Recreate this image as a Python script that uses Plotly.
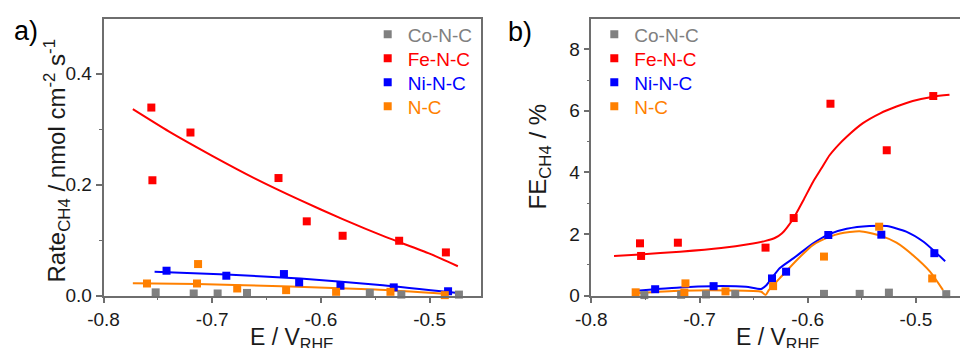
import plotly.graph_objects as go

# ---------------- data ----------------
series_names = ["Co-N-C", "Fe-N-C", "Ni-N-C", "N-C"]
series_colors = ["#808080", "#ff0000", "#0000ff", "#ff8000"]

# panel a) : Rate CH4 (nmol cm-2 s-1) vs E (V RHE)
rate_co_E = [-0.752, -0.717, -0.695, -0.668, -0.555, -0.526, -0.473]
rate_co = [0.006, 0.004, 0.004, 0.005, 0.005, 0.002, 0.002]
rate_fe_E = [-0.756, -0.755, -0.720, -0.639, -0.613, -0.580, -0.528, -0.485]
rate_fe = [0.339, 0.208, 0.294, 0.212, 0.134, 0.108, 0.099, 0.078]
rate_ni_E = [-0.742, -0.687, -0.634, -0.620, -0.582, -0.533, -0.483]
rate_ni = [0.045, 0.036, 0.039, 0.024, 0.018, 0.015, 0.008]
rate_nc_E = [-0.760, -0.713, -0.714, -0.677, -0.632, -0.586, -0.536, -0.486]
rate_nc = [0.022, 0.057, 0.022, 0.013, 0.010, 0.007, 0.007, 0.001]

# fitted curves, panel a)
rate_fe_fit_E = [-0.773, -0.740, -0.700, -0.660, -0.620, -0.580, -0.540, -0.500, -0.474]
rate_fe_fit = [0.336, 0.296, 0.252, 0.2105, 0.173, 0.138, 0.1055, 0.0758, 0.053]
rate_ni_fit_E = [-0.753, -0.687, -0.619, -0.543, -0.474]
rate_ni_fit = [0.043, 0.038, 0.031, 0.019, 0.005]
rate_nc_fit_E = [-0.773, -0.714, -0.628, -0.550, -0.484]
rate_nc_fit = [0.0225, 0.021, 0.0165, 0.011, 0.003]

# panel b) : FE CH4 (%) vs E (V RHE)
fe_co_E = [-0.751, -0.717, -0.694, -0.667, -0.585, -0.552, -0.525, -0.472]
fe_co = [0.02, 0.03, 0.04, 0.05, 0.06, 0.06, 0.10, 0.05]
fe_fe_E = [-0.755, -0.754, -0.720, -0.639, -0.613, -0.579, -0.527, -0.484]
fe_fe = [1.70, 1.29, 1.72, 1.56, 2.52, 6.23, 4.72, 6.48]
fe_ni_E = [-0.741, -0.687, -0.633, -0.620, -0.581, -0.532, -0.483]
fe_ni = [0.21, 0.31, 0.56, 0.78, 1.97, 1.98, 1.38]
fe_nc_E = [-0.759, -0.713, -0.714, -0.676, -0.632, -0.585, -0.534, -0.485]
fe_nc = [0.11, 0.40, 0.10, 0.14, 0.31, 1.27, 2.24, 0.56]

# fitted curves, panel b)
fe_fe_fit_E = [-0.779, -0.755, -0.718, -0.680, -0.655, -0.639, -0.630, -0.624, -0.619,
               -0.613, -0.604, -0.595, -0.587, -0.580, -0.572, -0.564, -0.549, -0.533,
               -0.518, -0.503, -0.484, -0.469]
fe_fe_fit = [1.29, 1.34, 1.43, 1.55, 1.67, 1.78, 1.88, 2.02, 2.22,
             2.52, 3.10, 3.70, 4.15, 4.55, 4.88, 5.16, 5.60, 5.92,
             6.14, 6.32, 6.46, 6.52]
fe_ni_fit_E = [-0.758, -0.741, -0.718, -0.688, -0.657, -0.643, -0.638, -0.626, -0.613,
               -0.595, -0.580, -0.564, -0.543, -0.527, -0.509, -0.493, -0.481, -0.473]
fe_ni_fit = [0.16, 0.21, 0.27, 0.31, 0.29, 0.22, 0.35, 0.89, 1.22,
             1.70, 2.00, 2.17, 2.26, 2.26, 2.08, 1.75, 1.38, 1.12]
fe_nc_fit_E = [-0.759, -0.718, -0.672, -0.643, -0.639, -0.636, -0.626, -0.610, -0.595,
               -0.580, -0.570, -0.552, -0.533, -0.518, -0.503, -0.487, -0.475]
fe_nc_fit = [0.08, 0.16, 0.17, 0.13, 0.02, 0.18, 0.56, 1.16, 1.65,
             1.91, 2.02, 2.09, 1.95, 1.72, 1.32, 0.78, 0.18]

x_tickvals = [-0.8, -0.7, -0.6, -0.5]
x_ticktext = ["-0.8", "-0.7", "-0.6", "-0.5"]
x_minor = [-0.75, -0.65, -0.55, -0.45]
ya_tickvals = [0.0, 0.2, 0.4]
ya_ticktext = ["0.0", "0.2", "0.4"]
ya_minor = [0.1, 0.3]
yb_tickvals = [0, 2, 4, 6, 8]
yb_ticktext = ["0", "2", "4", "6", "8"]
yb_minor = [1, 3, 5, 7]

x_title = "E / V<sub>RHE</sub>"
ya_title = "Rate<sub>CH4</sub> / nmol cm<sup>-2</sup> s<sup>-1</sup>"
yb_title = "FE<sub>CH4</sub> / %"

# ---------------- figure ----------------
FONT = "Liberation Sans, Arial, sans-serif"
AXC = "#6e6e6e"
TXT = "#1a1a1a"
W, H = 960, 348

fig = go.Figure()

legend_rows = [34.5, 58.5, 82.5, 106.5]   # pixel rows of the legend entries


def add_points(xs, ys, i, xa, ya, leg):
    fig.add_trace(go.Scatter(
        x=xs, y=ys, mode="markers", xaxis=xa, yaxis=ya, legend=leg,
        name="<span style='color:%s'>%s</span>" % (series_colors[i], series_names[i]),
        marker=dict(symbol="square", size=8, color=series_colors[i]),
        cliponaxis=False))


def add_fit(xs, ys, i, xa, ya):
    fig.add_trace(go.Scatter(
        x=xs, y=ys, mode="lines", xaxis=xa, yaxis=ya, showlegend=False,
        line=dict(color=series_colors[i], width=2, shape="spline", smoothing=0.6)))


# panel a)
add_fit(rate_fe_fit_E, rate_fe_fit, 1, "x", "y")
add_fit(rate_ni_fit_E, rate_ni_fit, 2, "x", "y")
add_fit(rate_nc_fit_E, rate_nc_fit, 3, "x", "y")
add_points(rate_co_E, rate_co, 0, "x", "y", "legend")
add_points(rate_fe_E, rate_fe, 1, "x", "y", "legend2")
add_points(rate_ni_E, rate_ni, 2, "x", "y", "legend3")
add_points(rate_nc_E, rate_nc, 3, "x", "y", "legend4")

# panel b)
add_fit(fe_fe_fit_E, fe_fe_fit, 1, "x2", "y2")
add_fit(fe_ni_fit_E, fe_ni_fit, 2, "x2", "y2")
add_fit(fe_nc_fit_E, fe_nc_fit, 3, "x2", "y2")
add_points(fe_co_E, fe_co, 0, "x2", "y2", "legend5")
add_points(fe_fe_E, fe_fe, 1, "x2", "y2", "legend6")
add_points(fe_ni_E, fe_ni, 2, "x2", "y2", "legend7")
add_points(fe_nc_E, fe_nc, 3, "x2", "y2", "legend8")

common = dict(showline=True, linecolor=AXC, linewidth=1.5, ticks="outside", ticklen=6,
              tickwidth=1.5, tickcolor=AXC, showgrid=False, zeroline=False,
              automargin=False,
              tickfont=dict(family=FONT, size=19, color=TXT))
minor_style = dict(ticklen=3, tickwidth=1.2, tickcolor=AXC, showgrid=False)

y_dom = [(H - 295.7) / H, (H - 19.3) / H]

legends = {}
for k in range(8):
    key = "legend" if k == 0 else "legend%d" % (k + 1)
    x_marker = 387.7 if k < 4 else 614.3
    legends[key] = dict(x=(x_marker - 20) / W, y=(H - legend_rows[k % 4]) / H,
                        xanchor="left", yanchor="middle", bgcolor="rgba(0,0,0,0)",
                        font=dict(family=FONT, size=19), itemwidth=30)

fig.update_layout(
    width=W, height=H, margin=dict(l=0, r=0, t=0, b=0, autoexpand=False),
    paper_bgcolor="white", plot_bgcolor="white",
    font=dict(family=FONT),
    xaxis=dict(domain=[103.5 / W, 481.0 / W], range=[-0.8, -0.4527], anchor="y",
               mirror=True, tickmode="array", tickvals=x_tickvals, ticktext=x_ticktext,
               minor=dict(tickmode="array", tickvals=x_minor, **minor_style), **common),
    yaxis=dict(domain=y_dom, range=[0, 0.498], anchor="x", mirror=True,
               tickmode="array", tickvals=ya_tickvals, ticktext=ya_ticktext,
               minor=dict(tickmode="array", tickvals=ya_minor, **minor_style), **common),
    xaxis2=dict(domain=[591.3 / W, 1.0], range=[-0.8, -0.4593], anchor="y2",
                mirror=True, tickmode="array", tickvals=x_tickvals, ticktext=x_ticktext,
                minor=dict(tickmode="array", tickvals=x_minor, **minor_style), **common),
    yaxis2=dict(domain=y_dom, range=[0, 8.97], anchor="x2", mirror=False,
                tickmode="array", tickvals=yb_tickvals, ticktext=yb_ticktext,
                minor=dict(tickmode="array", tickvals=yb_minor, **minor_style), **common),
    annotations=[
        dict(text="a)", x=12 / W, y=(H - 31) / H, xref="paper", yref="paper",
             xanchor="left", yanchor="middle", showarrow=False,
             font=dict(family=FONT, size=27, color="black")),
        dict(text="b)", x=506 / W, y=(H - 31.5) / H, xref="paper", yref="paper",
             xanchor="left", yanchor="middle", showarrow=False,
             font=dict(family=FONT, size=27, color="black")),
        # axis titles
        dict(text=x_title, x=292 / W, y=(H - 338) / H, xref="paper", yref="paper",
             xanchor="center", yanchor="middle", showarrow=False,
             font=dict(family=FONT, size=23, color=TXT)),
        dict(text=x_title, x=778 / W, y=(H - 338) / H, xref="paper", yref="paper",
             xanchor="center", yanchor="middle", showarrow=False,
             font=dict(family=FONT, size=23, color=TXT)),
        dict(text=ya_title, x=56.5 / W, y=(H - 161) / H, xref="paper", yref="paper",
             xanchor="center", yanchor="middle", showarrow=False, textangle=-90,
             font=dict(family=FONT, size=24, color=TXT)),
        dict(text=yb_title, x=539 / W, y=(H - 156.5) / H, xref="paper", yref="paper",
             xanchor="center", yanchor="middle", showarrow=False, textangle=-90,
             font=dict(family=FONT, size=24, color=TXT)),
    ],
    **legends,
)

fig.write_html("out.html", config={"displayModeBar": False},
               post_script="document.body.style.margin='0px';document.body.style.overflow='hidden';")
